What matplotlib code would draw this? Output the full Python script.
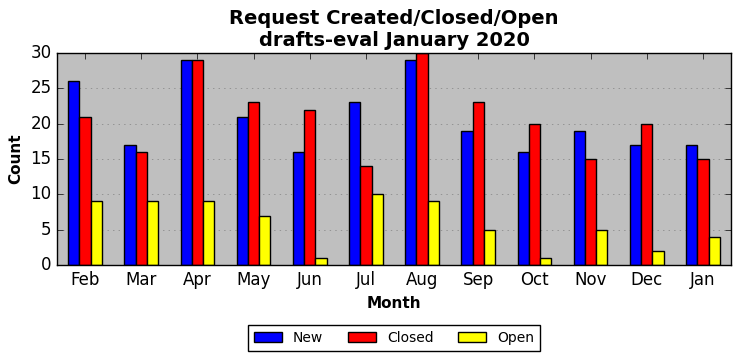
import numpy as np
import matplotlib
matplotlib.use("Agg")
import matplotlib.pyplot as plt

plt.style.use("classic")

months = ["Feb", "Mar", "Apr", "May", "Jun", "Jul", "Aug", "Sep", "Oct", "Nov", "Dec", "Jan"]
new = [26, 17, 29, 21, 16, 23, 29, 19, 16, 19, 17, 17]
closed = [21, 16, 29, 23, 22, 14, 30, 23, 20, 15, 20, 15]
open_ = [9, 9, 9, 7, 1, 10, 9, 5, 1, 5, 2, 4]

fig = plt.figure(figsize=(7.42, 3.61), dpi=100)
ax = fig.add_axes([57 / 742, 1 - 265 / 361, 674 / 742, 212 / 361])
ax.set_facecolor("#bfbfbf")
ax.set_axisbelow(True)

x = np.arange(len(months))
w = 0.2
ax.bar(x - w, new, w, color="blue", edgecolor="black", align="center", label="New")
ax.bar(x, closed, w, color="red", edgecolor="black", align="center", label="Closed")
ax.bar(x + w, open_, w, color="yellow", edgecolor="black", align="center", label="Open")

ax.set_xlim(-0.5, len(months) - 0.5)
ax.set_ylim(0, 30)
ax.set_xticks(x)
ax.set_xticklabels(months)
ax.yaxis.grid(True, linestyle=":", color="#808080")
ax.tick_params(labelsize=12)

ax.set_xlabel("Month", fontsize=11, fontweight="bold")
ax.set_ylabel("Count", fontsize=11, fontweight="bold")
ax.set_title("Request Created/Closed/Open\ndrafts-eval January 2020",
             fontsize=14, fontweight="bold")

fig.legend(loc="center", bbox_to_anchor=(394 / 742, 1 - 338 / 361), ncol=3,
           fontsize=10, fancybox=False, columnspacing=1.8)

fig.savefig("out.png", dpi=100)
